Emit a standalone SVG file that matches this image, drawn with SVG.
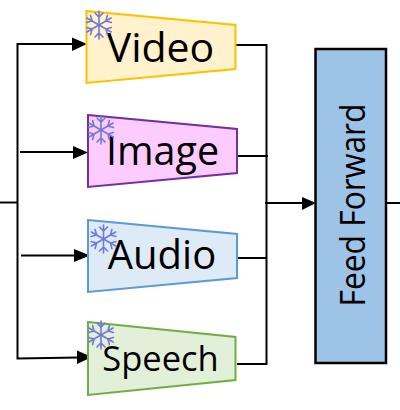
<svg xmlns="http://www.w3.org/2000/svg" width="400" height="410" viewBox="0 0 400 410">
<style>
.t{font-family:"Open Sans","Noto Sans",sans-serif;fill:#000}
.c{fill:none;stroke:#000;stroke-width:2}
.a{fill:#000;stroke:none}
.s{fill:none;stroke:#7079d6;stroke-width:1.6;stroke-linecap:round}
</style>
<defs>
<g id="flake">
<g id="arm"><path d="M0 0V-14M-4 -12L0 -8L4 -12"/></g>
<use href="#arm" transform="rotate(60)"/><use href="#arm" transform="rotate(120)"/><use href="#arm" transform="rotate(180)"/><use href="#arm" transform="rotate(240)"/><use href="#arm" transform="rotate(300)"/>
</g>
</defs>
<g id="connectors">
<path class="c" d="M0 202.500H17.500M17.500 203V44H74"/>
<path class="a" d="M72 37.500L87 44L72 51Z"/>
<path class="c" d="M20 152H75"/>
<path class="a" d="M73 146L88 152.500L73 159Z"/>
<path class="c" d="M21 255.500H76"/>
<path class="a" d="M74 249L90 255.500L74 262Z"/>
<path class="c" d="M17.500 203V358.500L79 357.500"/>
<path class="a" d="M77 350.500L92 357L77 364Z"/>
<path class="c" d="M235 45H266.500V364H237M237 156H268M237 258H266.500M265 203H305"/>
<path class="a" d="M302 197L316 203L302 210Z"/>
<path class="c" d="M387 203H400"/>
</g>
<g id="video">
<path d="M86.500 11L235.500 25V69L86.500 83Z" fill="#fff2cc" stroke="#ffc000" stroke-width="2"/>
<text class="t" x="160.500" y="62" font-size="41" text-anchor="middle">Video</text>
<use href="#flake" class="s" transform="translate(99 25)"/>
</g>
<g id="image">
<path d="M88 115L237 129V173L88 187Z" fill="#fccbff" stroke="#7030a0" stroke-width="2"/>
<text class="t" x="162.500" y="165" font-size="39.500" text-anchor="middle">Image</text>
<use href="#flake" class="s" transform="translate(101 130)"/>
</g>
<g id="audio">
<path d="M88 220L237 234V278L88 292Z" fill="#deebf7" stroke="#5b9bd5" stroke-width="2"/>
<text class="t" x="162" y="268.500" font-size="40" text-anchor="middle">Audio</text>
<use href="#flake" class="s" transform="translate(103.500 239)"/>
</g>
<g id="speech">
<path d="M88 322L235.500 337V380L88 395Z" fill="#e2f0d9" stroke="#70ad47" stroke-width="2"/>
<text class="t" x="160.500" y="371" font-size="34.500" text-anchor="middle">Speech</text>
<use href="#flake" class="s" transform="translate(101 335)"/>
</g>
<g id="feed-forward">
<rect x="315.500" y="49" width="70.500" height="314" fill="#9dc3e6" stroke="#000" stroke-width="2.500"/>
<text class="t" transform="translate(364.500 205) rotate(-90)" font-size="35" text-anchor="middle" textLength="203" lengthAdjust="spacingAndGlyphs">Feed Forward</text>
</g>
</svg>
